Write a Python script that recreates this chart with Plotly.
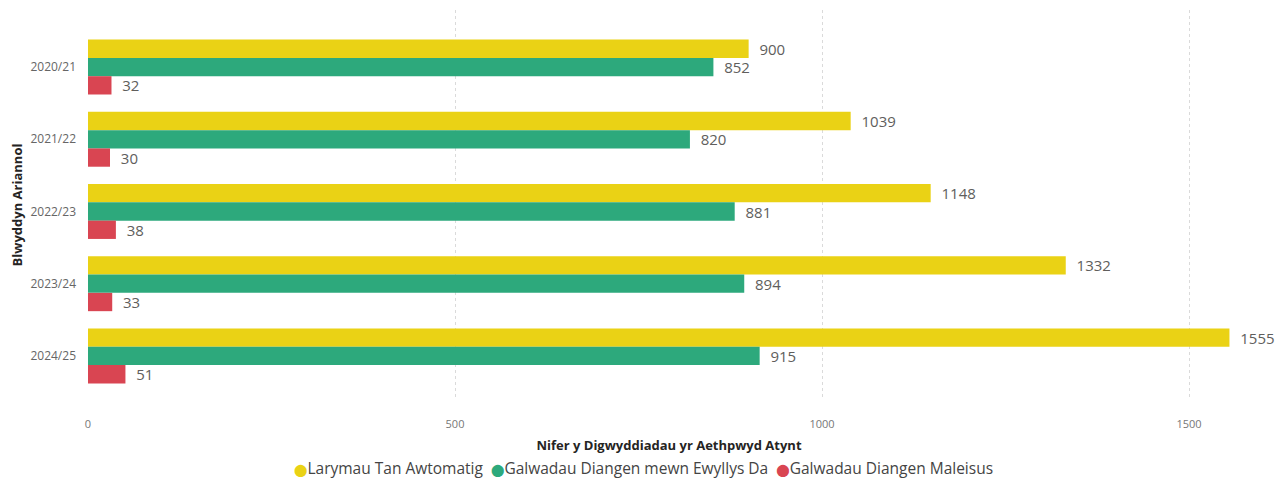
import plotly.graph_objects as go

years = ['2020/21', '2021/22', '2022/23', '2023/24', '2024/25']
larymau = [900, 1039, 1148, 1332, 1555]
ewyllys_da = [852, 820, 881, 894, 915]
maleisus = [32, 30, 38, 33, 51]

series = [
    ('Larymau Tan Awtomatig', larymau, '#EAD215'),
    ('Galwadau Diangen mewn Ewyllys Da', ewyllys_da, '#2DA97C'),
    ('Galwadau Diangen Maleisus', maleisus, '#D94552'),
]

font_main = 'Segoe UI, Open Sans, Noto Sans, sans-serif'

fig = go.Figure()
for name, vals, col in series:
    fig.add_trace(go.Bar(
        y=years, x=vals, orientation='h', name=name,
        marker=dict(color=col, line=dict(width=0)),
        text=vals, texttemplate='  %{x}', textposition='outside',
        constraintext='none',
        textfont=dict(size=15, color='#605E5C', family=font_main),
        cliponaxis=False, showlegend=False,
    ))

# legend drawn as a line of text with round markers
legend_txt = '&nbsp;&nbsp;'.join(
    '<span style="color:%s;font-family:DejaVu Sans;font-size:12px">⬤</span>%s'
    % (col, name) for name, _, col in series
)
fig.add_annotation(
    text=legend_txt, xref='paper', yref='paper', x=0.478, y=-0.175,
    xanchor='center', yanchor='middle', showarrow=False,
    font=dict(size=15.5, color='#444444', family=font_main),
)

# page body has an 8px margin, so the figure is a little smaller
fig.update_layout(
    width=1278, height=473,
    barmode='group', bargap=0.24, bargroupgap=0,
    plot_bgcolor='white', paper_bgcolor='white',
    margin=dict(l=80, r=36, t=2, b=81),
    font=dict(family=font_main, color='#605E5C'),
    showlegend=False,
)
fig.update_xaxes(
    range=[0, 1583], tickvals=[0, 500, 1000, 1500],
    showgrid=True, gridcolor='#DADADA', griddash='dot', gridwidth=1,
    zeroline=False, showline=False, automargin=False,
    tickfont=dict(size=11, color='#777777'), ticklabelstandoff=16,
    title=dict(text='<b>Nifer y Digwyddiadau yr Aethpwyd Atynt</b>',
               font=dict(size=13, color='#252423'), standoff=10),
)
fig.update_yaxes(
    type='category', range=[4.61, -0.79],
    showgrid=False, zeroline=False, showline=False, automargin=False,
    tickfont=dict(size=12, color='#666666'), ticklabelstandoff=11,
    title=dict(text='<b>Blwyddyn Ariannol</b>',
               font=dict(size=13, color='#252423'), standoff=7),
)

fig.write_html('out.html')
